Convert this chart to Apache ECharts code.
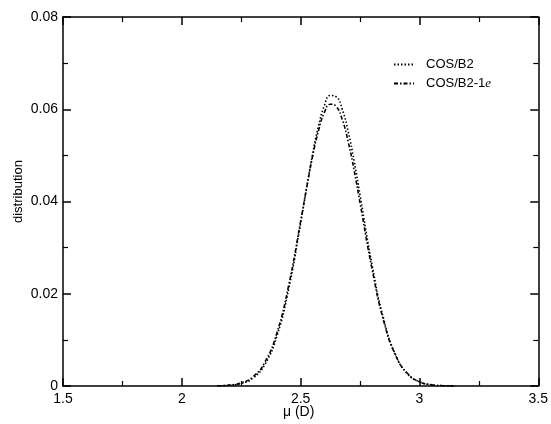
<!DOCTYPE html>
<html>
<head>
<meta charset="utf-8">
<script src="https://cdn.jsdelivr.net/npm/echarts@6/dist/echarts.min.js"></script>
<style>
html,body{margin:0;padding:0;background:#fff;}
#chart{width:551px;height:424px;}
</style>
</head>
<body>
<div id="chart"></div>
<script>
// Data
var xValues = [2.15, 2.2, 2.25, 2.3, 2.35, 2.4, 2.45, 2.5, 2.525, 2.55, 2.575, 2.6, 2.625, 2.65, 2.675, 2.7, 2.725, 2.75, 2.8, 2.85, 2.9, 2.95, 3.0, 3.05, 3.1, 3.15];
var cosB2 = [0.00003, 0.00015, 0.00055, 0.00174, 0.0047, 0.0108, 0.0211, 0.0353, 0.0429, 0.0502, 0.0563, 0.0608, 0.0630, 0.0627, 0.0600, 0.0552, 0.0488, 0.0414, 0.0264, 0.0144, 0.0067, 0.0026, 0.0009, 0.00026, 0.00006, 0.00001];
var cosB2_1e = [0.00005, 0.00019, 0.00066, 0.0020, 0.0052, 0.0115, 0.0219, 0.0357, 0.0429, 0.0497, 0.0553, 0.0593, 0.0611, 0.0606, 0.0578, 0.0530, 0.0468, 0.0397, 0.0255, 0.0140, 0.0066, 0.0027, 0.0009, 0.00027, 0.00007, 0.00001];
var seriesNames = ['COS/B2', 'COS/B2-1e'];
var xTicks = [1.5, 2, 2.5, 3, 3.5];
var yTicks = [0, 0.02, 0.04, 0.06, 0.08];

function pairs(xs, ys) { return xs.map(function (x, i) { return [x, ys[i]]; }); }

var FONT = 'Liberation Sans, Arial, Helvetica, sans-serif';
var chart = echarts.init(document.getElementById('chart'));

function xAxisDef(pos, showLabel) {
  return {
    type: 'value', position: pos, min: 1.5, max: 3.5, interval: 0.5,
    axisLine: { show: true, onZero: false, lineStyle: { color: '#000', width: 1.5 } },
    axisTick: { show: true, inside: true, length: 8, lineStyle: { color: '#000', width: 1.5 } },
    minorTick: { show: true, splitNumber: 2, length: 5, lineStyle: { color: '#000', width: 1.2 } },
    splitLine: { show: false },
    axisLabel: { show: showLabel, color: '#000', fontSize: 14, fontFamily: FONT, margin: 6,
      formatter: function (v) { return String(v); } }
  };
}
function yAxisDef(pos, showLabel) {
  return {
    type: 'value', position: pos, min: 0, max: 0.08, interval: 0.02,
    axisLine: { show: true, onZero: false, lineStyle: { color: '#000', width: 1.5 } },
    axisTick: { show: true, inside: true, length: 8, lineStyle: { color: '#000', width: 1.5 } },
    minorTick: { show: true, splitNumber: 2, length: 5, lineStyle: { color: '#000', width: 1.2 } },
    splitLine: { show: false },
    axisLabel: { show: showLabel, color: '#000', fontSize: 14, fontFamily: FONT, margin: 5,
      formatter: function (v) { return v === 0 ? '0' : v.toFixed(2); } }
  };
}

chart.setOption({
  backgroundColor: '#fff',
  animation: false,
  grid: { left: 63, right: 10, top: 17, bottom: 38 },
  xAxis: [xAxisDef('bottom', true), xAxisDef('top', false)],
  yAxis: [yAxisDef('left', true), yAxisDef('right', false)],
  legend: {
    orient: 'vertical', left: 388, top: 53, itemWidth: 20, itemHeight: 14, itemGap: 6,
    data: seriesNames,
    itemStyle: { opacity: 0 },
    textStyle: { color: '#000', fontSize: 13, fontFamily: FONT, padding: [0, 0, 0, 7],
      rich: { i: { fontStyle: 'italic', fontSize: 13, fontFamily: 'Liberation Serif, Times New Roman, serif', color: '#000' } } },
    formatter: function (n) { return n === 'COS/B2-1e' ? 'COS/B2-1{i|e}' : n; }
  },
  graphic: [
    { type: 'text', left: 283, top: 405, style: { text: 'μ (D)', fill: '#000', font: '14px ' + FONT } },
    { type: 'text', rotation: Math.PI / 2, x: 12, y: 223,
      style: { text: 'distribution', fill: '#000', font: '13px ' + FONT, textAlign: 'left', textVerticalAlign: 'top' } }
  ],
  series: [
    { name: seriesNames[0], type: 'line', smooth: true, showSymbol: false, symbol: 'none',
      xAxisIndex: 0, yAxisIndex: 0,
      lineStyle: { color: '#000', width: 1.6, type: [1.5, 2] }, itemStyle: { color: '#000' },
      data: pairs(xValues, cosB2) },
    { name: seriesNames[1], type: 'line', smooth: true, showSymbol: false, symbol: 'none',
      xAxisIndex: 0, yAxisIndex: 0,
      lineStyle: { color: '#000', width: 1.6, type: [4, 2, 1.5, 2] }, itemStyle: { color: '#000' },
      data: pairs(xValues, cosB2_1e) }
  ]
});
</script>
</body>
</html>
